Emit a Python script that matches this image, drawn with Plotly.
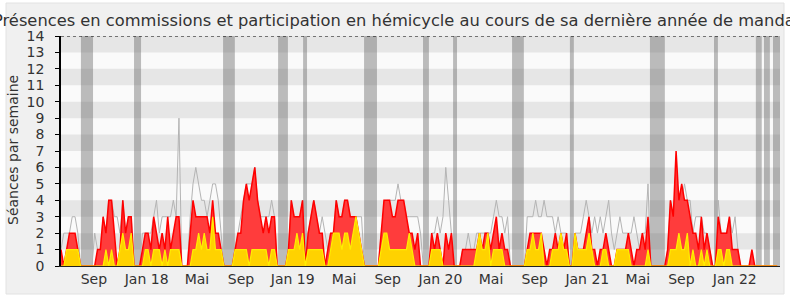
import plotly.graph_objects as go

# Weekly values (week index 0 = mid-June 2017)
red = [
    1,0,1,2,2,2,1,0,0,0,  0,0,0,1,1,3,2,4,4,2,  0,1,4,2,3,3,0,0,0,1,
    2,2,1,3,2,1,2,1,3,1,  2,3,3,0,0,0,2,4,3,3,  3,3,3,2,4,2,2,1,0,0,
    0,0,1,2,2,4,5,4,5,6,  4,3,2,3,2,3,3,0,0,0,  0,1,4,3,3,3,4,0,2,3,
    4,3,2,2,0,1,2,2,4,3,  3,4,4,3,3,3,2,1,0,0,  0,0,0,0,2,4,4,4,3,3,
    4,4,4,3,2,2,1,2,0,0,  0,0,2,1,2,1,0,2,1,2,  0,0,0,1,1,1,1,1,1,2,
    1,2,2,1,2,3,1,2,1,1,  0,0,0,0,0,0,1,2,2,2,  2,2,1,0,1,1,2,1,2,1,
    2,0,0,2,1,1,1,2,3,1,  1,0,1,1,2,1,0,0,1,1,  1,1,2,1,0,1,1,2,1,3,
    0,0,0,0,0,0,1,4,3,7,  4,5,4,4,3,2,2,1,3,1,  2,1,0,0,3,2,2,2,3,1,
    1,1,0,0,0,0,1,0,0,0,  0,0,0,0,0,0,
]
yellow = [
    0,0,1,1,1,1,1,0,0,0,  0,0,0,0,0,0,1,0,1,0,  0,1,2,1,1,2,0,0,0,0,
    1,1,0,1,1,1,0,1,0,1,  1,1,1,0,0,0,0,1,1,2,  1,2,1,1,3,1,1,1,0,0,
    0,0,1,1,1,1,1,0,1,1,  1,1,1,1,0,1,1,0,0,0,  0,1,1,1,2,1,2,0,1,1,
    1,1,1,1,0,0,1,2,2,2,  1,2,2,1,2,3,2,1,0,0,  0,0,0,0,1,2,2,1,1,1,
    1,1,1,1,2,1,0,0,0,0,  0,0,1,1,1,1,0,0,0,0,  0,0,0,0,0,0,0,0,1,2,
    1,1,2,0,1,1,1,1,0,0,  0,0,0,0,0,0,1,1,2,1,  1,2,0,0,0,1,1,1,2,1,
    1,0,0,2,1,1,1,1,2,1,  0,0,0,1,1,0,0,0,1,1,  1,1,1,0,0,0,0,0,0,1,
    0,0,0,0,0,0,0,1,1,1,  2,1,1,2,0,1,0,0,1,0,  1,0,0,0,1,1,0,1,1,0,
    0,0,0,0,0,0,0,0,0,0,  0,0,0,0,0,0,
]
gray = [
    1,2,2,2,3,3,2,0,0,0,  0,0,2,1,1,3,2,4,4,3,  3,2,4,2,3,3,0,0,0,2,
    2,2,2,3,4,2,3,3,3,3,  4,3,9,0,0,0,3,5,6,5,  4,4,3,4,5,5,4,2,0,0,
    0,0,1,2,3,4,5,5,5,6,  4,3,3,3,3,4,3,0,0,0,  0,1,4,3,3,3,4,0,2,3,
    4,3,2,3,2,1,2,2,4,3,  3,4,4,3,3,3,3,3,0,0,  0,0,0,0,2,3,4,4,4,4,
    5,4,4,3,3,3,3,3,2,0,  0,0,2,2,3,2,3,6,4,2,  0,0,0,1,1,2,1,1,2,2,
    2,2,2,2,3,4,3,3,2,3,  0,0,0,0,0,0,3,3,3,4,  3,3,4,3,3,3,2,3,2,2,
    2,0,0,2,2,2,3,4,3,2,  3,2,3,2,3,4,2,1,2,3,  2,2,2,2,3,2,1,2,2,5,
    0,0,0,0,0,0,1,4,3,5,  4,4,5,4,4,2,3,3,3,2,  2,1,0,0,4,2,2,2,3,2,
    3,1,0,0,0,0,0,0,0,0,  0,0,0,0,0,0,
]
weeks = list(range(len(red)))

# Parliamentary breaks (in week units)
vac_start = [7.1, 26.0, 57.7, 77.3, 86.2, 107.9, 128.9, 139.6, 160.6, 181.2, 209.7, 232.5, 247.4, 250.3, 253.5]
vac_end   = [11.4, 28.5, 61.9, 80.8, 87.6, 112.5, 131.0, 141.0, 164.8, 182.6, 215.0, 233.9, 249.5, 252.4, 256.0]

tick_pos = [11.7, 30.5, 48.4, 64.1, 82.5, 100.8, 116.3, 135.1, 153.1, 168.7, 187.4, 205.4, 220.9, 239.9]
tick_text = ["Sep", "Jan 18", "Mai", "Sep", "Jan 19", "Mai", "Sep", "Jan 20", "Mai", "Sep", "Jan 21", "Mai", "Sep", "Jan 22"]

title = "Présences en commissions et participation en hémicycle au cours de sa dernière année de mandat"
ytitle = "Séances par semaine"

FONT = "DejaVu Sans"
L, R, T, B, W, H = 61, 10, 36, 34, 790, 300
pw = W - L - R
ph = H - T - B

def px_x(p):
    return (p - L) / pw

def px_y(p):
    return (H - B - p) / ph

fig = go.Figure()
fig.add_trace(go.Scatter(x=weeks, y=gray, mode="lines",
                         line=dict(color="#b4b4b4", width=1), hoverinfo="skip"))
fig.add_trace(go.Scatter(x=weeks, y=red, mode="lines", fill="tozeroy",
                         fillcolor="#ff3c3c", line=dict(color="#ff0000", width=1.5), hoverinfo="skip"))
fig.add_trace(go.Scatter(x=weeks, y=yellow, mode="lines", fill="tozeroy",
                         fillcolor="#ffd200", line=dict(color="#ffee00", width=1.2), hoverinfo="skip"))

shapes = []
# outer frame
shapes.append(dict(type="rect", xref="paper", yref="paper", layer="below",
                   x0=px_x(6), x1=px_x(784), y0=px_y(294), y1=px_y(3),
                   fillcolor="#f0f0f0", line=dict(color="#e2e2e2", width=1)))
# plot background
shapes.append(dict(type="rect", xref="paper", yref="paper", layer="below",
                   x0=0, x1=1, y0=0, y1=1, fillcolor="#fafafa", line=dict(width=0)))
# stripes
for k in range(1, 14, 2):
    shapes.append(dict(type="rect", xref="paper", yref="y", layer="below",
                       x0=0, x1=1, y0=k, y1=k + 1, fillcolor="#e6e6e6", line=dict(width=0)))
# breaks
for s, e in zip(vac_start, vac_end):
    shapes.append(dict(type="rect", xref="x", yref="paper", layer="below",
                       x0=s, x1=e, y0=0, y1=1, fillcolor="rgba(100,100,100,0.42)", line=dict(width=0)))
# dotted top line
shapes.append(dict(type="line", xref="paper", yref="y", layer="above",
                   x0=0, x1=1, y0=14, y1=14, line=dict(color="#000", width=1, dash="dot")))

fig.update_layout(
    width=W, height=H, autosize=False,
    margin=dict(l=L, r=R, t=T, b=B, pad=0),
    paper_bgcolor="white", plot_bgcolor="rgba(0,0,0,0)",
    showlegend=False,
    font=dict(family=FONT, size=14, color="#333"),
    shapes=shapes,
    xaxis=dict(range=[0, len(red)], tickvals=tick_pos, ticktext=tick_text,
               showgrid=False, zeroline=False, showline=True, linecolor="#222", linewidth=1,
               ticks="", tickfont=dict(family=FONT, size=14, color="#333"), fixedrange=True),
    yaxis=dict(range=[0, 14], tickvals=list(range(15)), showgrid=False, zeroline=False,
               showline=True, linecolor="#000", linewidth=1.5, ticks="outside", ticklen=4,
               tickcolor="#000", tickfont=dict(family=FONT, size=14, color="#333"),
               ticklabelstandoff=8, fixedrange=True),
    annotations=[
        dict(text=title, xref="paper", yref="paper", x=px_x(397), y=px_y(21),
             xanchor="center", yanchor="middle", showarrow=False,
             font=dict(family=FONT, size=16.3, color="#333")),
        dict(text=ytitle, xref="paper", yref="paper", x=px_x(13), y=px_y(150),
             xanchor="center", yanchor="middle", showarrow=False, textangle=-90,
             font=dict(family=FONT, size=14, color="#333")),
    ],
)

fig.write_html("out.html")
